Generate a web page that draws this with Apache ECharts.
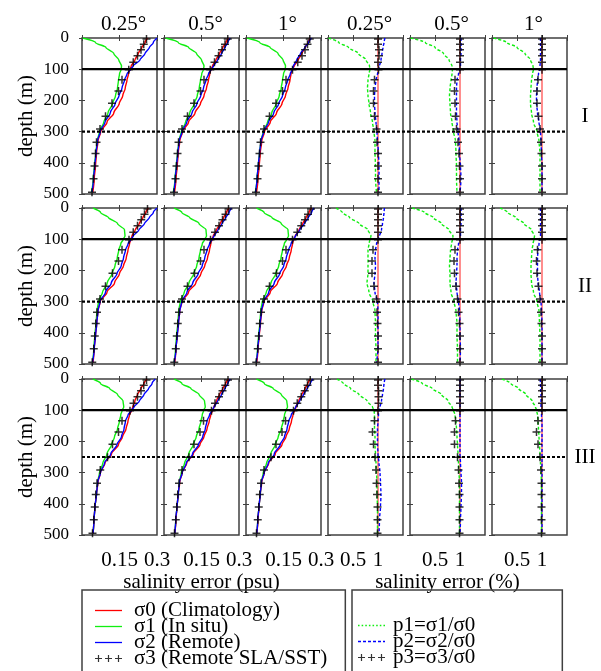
<!DOCTYPE html>
<html>
<head>
<meta charset="utf-8">
<script src="https://cdn.jsdelivr.net/npm/echarts@6/dist/echarts.min.js"></script>
<style>html,body{margin:0;padding:0;background:#fff;}#chart{width:601px;height:671px;}</style>
</head>
<body>
<div id="chart"></div>
<script>
// ---------------- DATA ----------------
const depths = [0, 15, 30, 50, 70, 90, 100, 115, 135, 160, 185, 210, 240, 270, 300, 330, 370, 410, 450, 495];
const markerDepths = [3, 20, 38, 57, 78, 102, 134, 170, 209, 251, 292, 334, 370, 410, 451, 494];
const refDepths = [0, 495];
const refRatio = [1, 1];
const colTitles = ['0.25°', '0.5°', '1°', '0.25°', '0.5°', '1°'];
const rowLabels = ['I', 'II', 'III'];
const mixedLayerDepth = [100, 100, 100];
const lowerDepth = [300, 300, 250];
const psuTicks = [0.15, 0.3];
const pctTicks = [0.5, 1];
const depthTicks = [0, 100, 200, 300, 400, 500];

// Row I
const s0_I_025 = [0.262,0.252,0.240,0.225,0.212,0.197,0.192,0.186,0.180,0.173,0.163,0.149,0.127,0.100,0.075,0.064,0.058,0.054,0.049,0.043];
const s1_I_025 = [0.003,0.055,0.095,0.127,0.147,0.158,0.157,0.150,0.146,0.142,0.134,0.122,0.104,0.087,0.070,0.061,0.055,0.050,0.045,0.038];
const s2_I_025 = [0.300,0.285,0.270,0.252,0.232,0.205,0.194,0.180,0.170,0.160,0.148,0.133,0.113,0.092,0.073,0.062,0.056,0.051,0.046,0.040];
const s3_I_025 = [0.258,0.247,0.236,0.222,0.205,0.187,0.160,0.146,0.120,0.094,0.072,0.058,0.054,0.050,0.046,0.040];
const s0_I_05 = [0.258,0.248,0.236,0.222,0.208,0.194,0.188,0.183,0.178,0.170,0.160,0.146,0.124,0.098,0.074,0.063,0.057,0.053,0.048,0.042];
const s1_I_05 = [0.006,0.058,0.098,0.130,0.150,0.160,0.158,0.151,0.146,0.141,0.133,0.121,0.103,0.086,0.069,0.060,0.054,0.049,0.044,0.037];
const s2_I_05 = [0.265,0.255,0.244,0.230,0.215,0.198,0.189,0.178,0.168,0.158,0.147,0.132,0.112,0.091,0.072,0.061,0.055,0.050,0.045,0.039];
const s3_I_05 = [0.255,0.244,0.232,0.218,0.202,0.185,0.160,0.146,0.120,0.094,0.072,0.058,0.054,0.050,0.046,0.040];
const s0_I_1 = [0.258,0.248,0.237,0.223,0.209,0.193,0.186,0.180,0.176,0.168,0.158,0.144,0.122,0.097,0.074,0.063,0.057,0.053,0.048,0.042];
const s1_I_1 = [0.004,0.056,0.096,0.128,0.148,0.158,0.157,0.150,0.146,0.141,0.133,0.121,0.103,0.086,0.069,0.060,0.054,0.049,0.044,0.037];
const s2_I_1 = [0.262,0.250,0.236,0.218,0.203,0.190,0.185,0.177,0.167,0.157,0.146,0.131,0.111,0.090,0.071,0.060,0.054,0.049,0.044,0.038];
const s3_I_1 = [0.255,0.246,0.236,0.224,0.207,0.186,0.160,0.146,0.120,0.094,0.072,0.058,0.054,0.050,0.046,0.040];

// Row II
const s0_II_025 = [0.266,0.255,0.244,0.229,0.213,0.200,0.196,0.190,0.184,0.177,0.166,0.150,0.130,0.100,0.073,0.064,0.059,0.054,0.049,0.044];
const s1_II_025 = [0.044,0.075,0.105,0.142,0.170,0.172,0.165,0.155,0.147,0.141,0.132,0.120,0.101,0.082,0.066,0.060,0.056,0.051,0.047,0.042];
const s2_II_025 = [0.300,0.285,0.270,0.250,0.228,0.205,0.196,0.184,0.174,0.166,0.157,0.140,0.117,0.094,0.072,0.064,0.059,0.054,0.049,0.042];
const s3_II_025 = [0.262,0.250,0.237,0.222,0.205,0.188,0.160,0.146,0.122,0.094,0.072,0.060,0.055,0.051,0.047,0.041];
const s0_II_05 = [0.260,0.250,0.239,0.225,0.210,0.197,0.192,0.187,0.182,0.174,0.163,0.148,0.127,0.098,0.072,0.063,0.058,0.053,0.048,0.043];
const s1_II_05 = [0.040,0.072,0.102,0.140,0.168,0.170,0.163,0.153,0.146,0.140,0.131,0.119,0.100,0.081,0.065,0.059,0.055,0.050,0.046,0.041];
const s2_II_05 = [0.270,0.260,0.248,0.232,0.216,0.200,0.192,0.182,0.172,0.163,0.153,0.137,0.115,0.092,0.071,0.063,0.058,0.053,0.048,0.041];
const s3_II_05 = [0.258,0.246,0.234,0.220,0.204,0.186,0.160,0.146,0.122,0.094,0.072,0.060,0.055,0.051,0.047,0.041];
const s0_II_1 = [0.262,0.252,0.241,0.227,0.212,0.197,0.191,0.186,0.181,0.173,0.162,0.147,0.126,0.097,0.072,0.063,0.058,0.053,0.048,0.043];
const s1_II_1 = [0.042,0.073,0.103,0.141,0.168,0.170,0.163,0.153,0.146,0.140,0.131,0.119,0.100,0.081,0.065,0.059,0.055,0.050,0.046,0.041];
const s2_II_1 = [0.272,0.262,0.250,0.233,0.215,0.198,0.190,0.180,0.170,0.161,0.151,0.135,0.113,0.091,0.070,0.062,0.057,0.052,0.047,0.041];
const s3_II_1 = [0.260,0.248,0.236,0.221,0.205,0.186,0.160,0.146,0.122,0.094,0.072,0.060,0.055,0.051,0.047,0.041];

// Row III
const s0_III_025 = [0.260,0.248,0.236,0.222,0.212,0.203,0.199,0.190,0.184,0.176,0.162,0.146,0.118,0.092,0.074,0.064,0.058,0.052,0.048,0.044];
const s1_III_025 = [0.044,0.075,0.110,0.142,0.164,0.167,0.161,0.155,0.150,0.142,0.130,0.118,0.100,0.083,0.070,0.063,0.058,0.052,0.048,0.044];
const s2_III_025 = [0.293,0.280,0.267,0.248,0.230,0.208,0.198,0.184,0.174,0.168,0.158,0.140,0.115,0.090,0.074,0.063,0.058,0.052,0.048,0.044];
const s3_III_025 = [0.258,0.247,0.236,0.222,0.206,0.192,0.160,0.146,0.122,0.102,0.073,0.060,0.055,0.051,0.047,0.042];
const s0_III_05 = [0.258,0.247,0.236,0.222,0.210,0.200,0.195,0.187,0.181,0.172,0.160,0.144,0.117,0.091,0.073,0.063,0.057,0.052,0.048,0.043];
const s1_III_05 = [0.040,0.072,0.107,0.140,0.162,0.165,0.159,0.153,0.148,0.140,0.129,0.117,0.099,0.082,0.069,0.062,0.057,0.052,0.047,0.043];
const s2_III_05 = [0.265,0.255,0.244,0.230,0.215,0.200,0.193,0.182,0.172,0.165,0.155,0.138,0.114,0.089,0.073,0.062,0.057,0.052,0.047,0.043];
const s3_III_05 = [0.256,0.245,0.234,0.220,0.204,0.190,0.158,0.144,0.120,0.100,0.072,0.060,0.055,0.051,0.047,0.042];
const s0_III_1 = [0.258,0.247,0.237,0.223,0.211,0.200,0.195,0.188,0.182,0.173,0.160,0.144,0.117,0.091,0.073,0.063,0.057,0.052,0.048,0.043];
const s1_III_1 = [0.042,0.074,0.108,0.141,0.163,0.166,0.160,0.154,0.149,0.141,0.129,0.117,0.099,0.082,0.069,0.062,0.057,0.052,0.047,0.043];
const s2_III_1 = [0.268,0.257,0.245,0.230,0.215,0.199,0.192,0.181,0.171,0.164,0.154,0.137,0.113,0.089,0.073,0.062,0.057,0.052,0.047,0.043];
const s3_III_1 = [0.257,0.246,0.235,0.221,0.205,0.190,0.158,0.144,0.120,0.100,0.072,0.060,0.055,0.051,0.047,0.042];

// Ratio panels, Row I
const p1_I_025 = [0.01,0.22,0.41,0.61,0.76,0.83,0.84,0.82,0.80,0.79,0.80,0.82,0.85,0.89,0.92,0.94,0.94,0.95,0.95,0.97];
const p2_I_025 = [1.14,1.12,1.10,1.08,1.06,1.03,1.02,0.99,0.96,0.94,0.93,0.93,0.94,0.96,0.98,0.99,1.01,1.02,1.02,1.02];
const p3_I_025 = [1.00,1.00,1.02,1.02,1.00,1.01,0.93,0.91,0.91,0.93,0.97,0.98,1.00,1.00,1.00,1.00];
const p1_I_05 = [0.01,0.31,0.50,0.67,0.78,0.84,0.85,0.84,0.82,0.80,0.79,0.80,0.81,0.84,0.87,0.91,0.92,0.93,0.93,0.94];
const p2_I_05 = [1.02,1.02,1.02,1.02,1.01,1.01,1.00,0.97,0.94,0.93,0.93,0.93,0.93,0.94,0.96,0.98,0.99,1.01,1.02,1.00];
const p3_I_05 = [1.00,1.00,1.00,1.00,1.00,1.00,0.90,0.89,0.90,0.91,0.93,0.96,0.98,0.99,1.00,1.00];
const p1_I_1 = [0.03,0.30,0.50,0.66,0.77,0.82,0.83,0.81,0.79,0.78,0.77,0.77,0.79,0.83,0.90,0.94,0.96,0.96,0.96,0.96];
const p2_I_1 = [0.97,0.97,0.97,0.97,0.97,0.96,0.96,0.93,0.91,0.90,0.89,0.89,0.91,0.94,0.97,0.98,0.99,1.00,1.00,1.00];
const p3_I_1 = [1.00,1.00,1.00,1.00,1.00,1.00,0.92,0.90,0.90,0.93,0.96,0.98,0.99,1.00,1.00,1.00];

// Ratio panels, Row II
const p1_II_025 = [0.16,0.29,0.43,0.62,0.80,0.86,0.84,0.82,0.80,0.80,0.80,0.80,0.78,0.82,0.90,0.94,0.95,0.95,0.96,0.96];
const p2_II_025 = [1.13,1.12,1.11,1.09,1.07,1.03,1.00,0.97,0.95,0.94,0.95,0.94,0.92,0.94,0.99,1.00,1.00,1.00,1.00,0.97];
const p3_II_025 = [1.00,1.00,1.00,1.00,1.00,1.00,0.90,0.88,0.88,0.92,0.97,0.98,0.99,1.00,1.00,1.00];
const p1_II_05 = [0.04,0.30,0.46,0.63,0.78,0.86,0.85,0.83,0.81,0.80,0.79,0.80,0.80,0.82,0.88,0.92,0.94,0.94,0.95,0.95];
const p2_II_05 = [1.02,1.02,1.02,1.02,1.01,1.01,1.00,0.97,0.95,0.94,0.94,0.93,0.92,0.94,0.97,0.99,1.00,1.00,1.01,1.00];
const p3_II_05 = [1.00,1.00,1.00,1.00,1.00,1.00,0.90,0.88,0.89,0.92,0.95,0.97,0.99,1.00,1.00,1.00];
const p1_II_1 = [0.16,0.32,0.47,0.64,0.79,0.85,0.84,0.82,0.80,0.79,0.78,0.78,0.79,0.83,0.90,0.94,0.95,0.96,0.96,0.96];
const p2_II_1 = [0.97,0.97,0.97,0.97,0.97,0.97,0.96,0.94,0.92,0.91,0.91,0.91,0.92,0.95,0.98,0.99,1.00,1.00,1.00,1.00];
const p3_II_1 = [1.00,1.00,1.00,1.00,1.00,1.00,0.91,0.89,0.90,0.93,0.96,0.98,0.99,1.00,1.00,1.00];

// Ratio panels, Row III
const p1_III_025 = [0.18,0.31,0.45,0.62,0.78,0.89,0.92,0.93,0.93,0.93,0.94,0.94,0.95,0.96,0.97,0.98,0.98,0.99,0.99,0.99];
const p2_III_025 = [1.14,1.12,1.11,1.09,1.07,1.04,1.02,1.01,1.00,0.99,0.99,0.99,1.00,1.02,1.04,1.05,1.06,1.05,1.03,1.02];
const p3_III_025 = [1.00,1.00,1.01,1.01,1.01,1.00,0.93,0.89,0.91,0.94,0.96,0.97,0.98,0.99,0.99,0.99];
const p1_III_05 = [0.03,0.25,0.44,0.63,0.76,0.84,0.87,0.90,0.92,0.93,0.94,0.95,0.96,0.97,0.98,0.99,0.99,0.99,0.99,0.99];
const p2_III_05 = [1.00,1.00,1.00,1.00,1.00,1.00,1.00,1.00,1.00,1.00,1.00,1.00,1.00,1.01,1.02,1.03,1.03,1.02,1.01,1.00];
const p3_III_05 = [1.00,1.00,1.00,1.00,1.00,1.00,0.91,0.89,0.89,0.95,0.97,0.98,0.99,0.99,0.99,0.99];
const p1_III_1 = [0.20,0.38,0.53,0.68,0.80,0.87,0.89,0.91,0.92,0.93,0.94,0.95,0.96,0.97,0.98,0.99,0.99,0.99,0.99,0.99];
const p2_III_1 = [0.96,0.97,0.97,0.98,0.98,0.98,0.99,0.99,1.00,1.00,1.00,1.00,1.00,1.00,1.00,1.00,1.00,1.00,1.00,1.00];
const p3_III_1 = [1.00,1.00,1.00,1.00,1.00,1.00,0.92,0.89,0.92,0.96,0.98,0.99,0.99,0.99,0.99,0.99];

const psuPanels = [
  [[s0_I_025, s1_I_025, s2_I_025, s3_I_025], [s0_I_05, s1_I_05, s2_I_05, s3_I_05], [s0_I_1, s1_I_1, s2_I_1, s3_I_1]],
  [[s0_II_025, s1_II_025, s2_II_025, s3_II_025], [s0_II_05, s1_II_05, s2_II_05, s3_II_05], [s0_II_1, s1_II_1, s2_II_1, s3_II_1]],
  [[s0_III_025, s1_III_025, s2_III_025, s3_III_025], [s0_III_05, s1_III_05, s2_III_05, s3_III_05], [s0_III_1, s1_III_1, s2_III_1, s3_III_1]]
];
const ratioPanels = [
  [[p1_I_025, p2_I_025, p3_I_025], [p1_I_05, p2_I_05, p3_I_05], [p1_I_1, p2_I_1, p3_I_1]],
  [[p1_II_025, p2_II_025, p3_II_025], [p1_II_05, p2_II_05, p3_II_05], [p1_II_1, p2_II_1, p3_II_1]],
  [[p1_III_025, p2_III_025, p3_III_025], [p1_III_05, p2_III_05, p3_III_05], [p1_III_1, p2_III_1, p3_III_1]]
];

const names = {
  s0: 'σ0 (Climatology)', s1: 'σ1 (In situ)', s2: 'σ2 (Remote)', s3: 'σ3 (Remote SLA/SST)',
  p0: 'p0=σ0/σ0', p1: 'p1=σ1/σ0', p2: 'p2=σ2/σ0', p3: 'p3=σ3/σ0'
};

// ---------------- LAYOUT / STYLE ----------------
const colLeft = [82, 164, 246, 328, 410, 492];
const rowTop = [38, 208, 379];
const PW = 75, PH = 156;
const FONT = 'Liberation Serif';
const FRAME = '#404040';
const RED = '#ff0000', GREEN = '#11ee11', BLUE = '#0000ff';
const plusSymbol = 'path://M3.25,0h1.5v3.25h3.25v1.5h-3.25v3.25h-1.5v-3.25h-3.25v-1.5h3.25z';
function plusTriple() {
  let p = '';
  [3.5, 13.5, 23.5].forEach(cx => {
    p += `M${cx-0.6},0h1.2v2.9h2.9v1.2h-2.9v2.9h-1.2v-2.9h-2.9v-1.2h2.9z`;
  });
  return 'path://' + p;
}
function dashIcon(on, off) {
  let p = '';
  for (let x = 0; x < 27; x += on + off) {
    const w = Math.min(on, 27 - x);
    p += `M${x},0h${w}v1.3h-${w}z`;
  }
  return 'path://' + p;
}
const solidIcon = 'path://M0,0h27v1.3h-27z';

const grid = [], xAxis = [], yAxis = [], series = [];
const tick = { show: true, inside: true, length: 3, lineStyle: { color: FRAME, width: 1 } };
const txt = { fontFamily: FONT, fontSize: 21, color: '#000' };

function pairs(xs, ds) { return ds.map((d, i) => [xs[i], d]); }

let gi = 0;
for (let r = 0; r < 3; r++) {
  for (let c = 0; c < 6; c++) {
    const isPsu = c < 3;
    grid.push({ left: colLeft[c], top: rowTop[r], width: PW, height: PH, show: true,
      borderColor: FRAME, borderWidth: 1.5, backgroundColor: '#fff' });
    const xmax = isPsu ? 0.3 : 1.5, xint = isPsu ? 0.15 : 0.5;
    const ticksShown = isPsu ? psuTicks : pctTicks;
    xAxis.push({
      type: 'value', gridIndex: gi, position: 'bottom', min: 0, max: xmax, interval: xint,
      axisLine: { show: false }, axisTick: tick, splitLine: { show: false },
      axisLabel: { show: r === 2, margin: 15, fontFamily: FONT, fontSize: 21, color: '#000',
        showMinLabel: true, showMaxLabel: true,
        formatter: v => { const k = +(+v).toFixed(2); return ticksShown.includes(k) ? String(k) : ''; } },
      name: (r === 2 && c === 1) ? 'salinity error (psu)' : (r === 2 && c === 4) ? 'salinity error (%)' : '',
      nameLocation: 'middle', nameGap: 32, nameTextStyle: txt
    });
    xAxis.push({
      type: 'value', gridIndex: gi, position: 'top', min: 0, max: xmax, interval: xint,
      axisLine: { show: false }, axisTick: tick, splitLine: { show: false }, axisLabel: { show: false },
      name: r === 0 ? colTitles[c] : '', nameLocation: 'middle', nameGap: 3,
      nameTextStyle: Object.assign({ padding: [0, 0, 0, 8] }, txt)
    });
    yAxis.push({
      type: 'value', gridIndex: gi, position: 'left', inverse: true, min: 0, max: 500, interval: 100,
      axisLine: { show: false }, axisTick: tick, splitLine: { show: false },
      axisLabel: { show: c === 0, margin: 13, fontFamily: FONT, fontSize: 17, color: '#000',
        formatter: v => depthTicks.includes(v) ? String(v) : '' },
      name: c === 0 ? 'depth (m)' : '', nameLocation: 'middle', nameGap: 45, nameRotate: 90, nameTextStyle: txt
    });
    yAxis.push({
      type: 'value', gridIndex: gi, position: 'right', inverse: true, min: 0, max: 500, interval: 100,
      axisLine: { show: false }, axisTick: tick, splitLine: { show: false }, axisLabel: { show: false },
      name: c === 5 ? rowLabels[r] : '', nameLocation: 'middle', nameGap: 18, nameRotate: 0,
      nameTextStyle: Object.assign({ align: 'center', verticalAlign: 'middle' }, txt)
    });
    const xi = 2 * gi, yi = 2 * gi;
    const common = { type: 'line', xAxisIndex: xi, yAxisIndex: yi, symbol: 'none', showSymbol: false,
      smooth: 0.3, smoothMonotone: 'y', silent: true, z: 3 };
    const mk = { type: 'scatter', xAxisIndex: xi, yAxisIndex: yi, symbol: plusSymbol, symbolSize: 8,
      itemStyle: { color: '#000' }, silent: true, z: 4 };
    if (isPsu) {
      const [s0, s1, s2, s3] = psuPanels[r][c];
      series.push(Object.assign({}, common, { name: names.s1, data: pairs(s1, depths), color: GREEN, lineStyle: { color: GREEN, width: 1.4 } }));
      series.push(Object.assign({}, common, { name: names.s0, data: pairs(s0, depths), color: RED, lineStyle: { color: RED, width: 1.4 } }));
      series.push(Object.assign({}, common, { name: names.s2, data: pairs(s2, depths), color: BLUE, lineStyle: { color: BLUE, width: 1.4 } }));
      series.push(Object.assign({}, mk, { name: names.s3, data: pairs(s3, markerDepths) }));
    } else {
      const [p1, p2, p3] = ratioPanels[r][c - 3];
      series.push(Object.assign({}, common, { name: names.p0, smooth: false, data: pairs(refRatio, refDepths), color: '#ff3030', lineStyle: { color: '#ff3030', width: 1.1 } }));
      series.push(Object.assign({}, common, { name: names.p1, data: pairs(p1, depths), color: GREEN, lineStyle: { color: GREEN, width: 1.4, type: [3, 2] } }));
      series.push(Object.assign({}, common, { name: names.p2, data: pairs(p2, depths), color: BLUE, lineStyle: { color: BLUE, width: 1.4, type: [3, 2] } }));
      series.push(Object.assign({}, mk, { name: names.p3, data: pairs(p3, markerDepths) }));
    }
    gi++;
  }
}

// overlay grids carrying the row-wide horizontal reference depths
for (let r = 0; r < 3; r++) {
  grid.push({ left: colLeft[0], top: rowTop[r], width: colLeft[5] + PW - colLeft[0], height: PH, show: false });
  xAxis.push({ type: 'value', gridIndex: gi, min: 0, max: 1, show: false });
  yAxis.push({ type: 'value', gridIndex: gi, min: 0, max: 500, inverse: true, show: false });
  const ai = xAxis.length - 1, bi = yAxis.length - 1;
  series.push({ type: 'line', name: 'mixed', xAxisIndex: ai, yAxisIndex: bi, symbol: 'none', silent: true, z: 10,
    data: [[0, mixedLayerDepth[r]], [1, mixedLayerDepth[r]]], lineStyle: { color: '#000', width: 2.2 } });
  series.push({ type: 'line', name: 'lower', xAxisIndex: ai, yAxisIndex: bi, symbol: 'none', silent: true, z: 10,
    data: [[0, lowerDepth[r]], [1, lowerDepth[r]]], lineStyle: { color: '#000', width: 2.2, type: [3, 2] } });
  gi++;
}

const legendText = { fontFamily: FONT, fontSize: 21, color: '#000', lineHeight: 16, padding: [0, 0, 0, 7] };
const option = {
  animation: false,
  backgroundColor: '#fff',
  grid, xAxis, yAxis, series,
  legend: [
    { orient: 'vertical', left: 82, top: 590, height: 200, itemWidth: 27, itemHeight: 7, itemGap: -5,
      padding: [10, 18, 24, 13], borderColor: FRAME, borderWidth: 1.5, selectedMode: false,
      symbolKeepAspect: true, textStyle: legendText,
      data: [{ name: names.s0, icon: solidIcon }, { name: names.s1, icon: solidIcon },
             { name: names.s2, icon: solidIcon }, { name: names.s3, icon: plusTriple() }] },
    { orient: 'vertical', left: 352, top: 590, height: 200, itemWidth: 27, itemHeight: 7, itemGap: -5,
      padding: [25, 87, 24, 6], borderColor: FRAME, borderWidth: 1.5, selectedMode: false,
      symbolKeepAspect: true, textStyle: Object.assign({}, legendText, { padding: [0, 0, 0, 3] }),
      data: [{ name: names.p1, icon: dashIcon(1.5, 2) }, { name: names.p2, icon: dashIcon(3, 2) },
             { name: names.p3, icon: plusTriple() }] }
  ]
};

const chart = echarts.init(document.getElementById('chart'), null, { renderer: 'canvas' });
chart.setOption(option);
</script>
</body>
</html>
